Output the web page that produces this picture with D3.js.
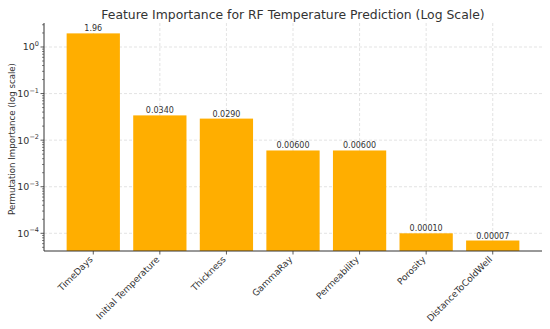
<!DOCTYPE html>
<html><head><meta charset="utf-8">
<script src="https://cdn.jsdelivr.net/npm/d3@7"></script>
<style>body{margin:0;background:#fff;} text{font-family:"DejaVu Sans",sans-serif;}</style>
</head><body><svg id="c" width="550" height="329"></svg>
<script>
const categories = ["TimeDays","Initial Temperature","Thickness","GammaRay","Permeability","Porosity","DistanceToColdWell"];
const values = [1.96, 0.034, 0.029, 0.006, 0.006, 0.0001, 0.00007];
const valueLabels = ["1.96","0.0340","0.0290","0.00600","0.00600","0.00010","0.00007"];
const yTickExps = [0,-1,-2,-3,-4];
const title = "Feature Importance for RF Temperature Prediction (Log Scale)";
const yLabel = "Permutation Importance (log scale)";

const svg = d3.select("#c");
const L = 44, R = 542, T = 23, B = 251;
const textColor = "#333";
const barColor = "#ffae00";

const x = d3.scaleLinear().domain([-0.74, categories.length - 1 + 0.74]).range([L, R]);
const y = d3.scaleLog().domain([Math.pow(10,-4.38), Math.pow(10,0.515)]).range([B, T]);

// gridlines
const g = svg.append("g");
categories.forEach((c,i)=>{
  g.append("line").attr("x1",x(i)).attr("x2",x(i)).attr("y1",T).attr("y2",B)
   .attr("stroke","#dcdcdc").attr("stroke-width",0.8).attr("stroke-dasharray","3,2");
});
yTickExps.forEach(e=>{
  g.append("line").attr("x1",L).attr("x2",R).attr("y1",y(Math.pow(10,e))).attr("y2",y(Math.pow(10,e)))
   .attr("stroke","#dcdcdc").attr("stroke-width",0.8).attr("stroke-dasharray","3,2");
});

// bars
const bw = 0.8;
svg.append("g").selectAll("rect").data(values).join("rect")
  .attr("x",(d,i)=>x(i-bw/2)).attr("width",x(bw)-x(0))
  .attr("y",d=>y(d)).attr("height",d=>B-y(d)).attr("fill",barColor);

// value labels
svg.append("g").selectAll("text").data(values).join("text")
  .attr("x",(d,i)=>x(i)).attr("y",d=>y(d)-2).attr("text-anchor","middle")
  .attr("font-size",8).attr("fill",textColor).text((d,i)=>valueLabels[i]);

// axes spines
svg.append("line").attr("x1",L).attr("x2",L).attr("y1",T).attr("y2",B).attr("stroke","#333").attr("stroke-width",1);
svg.append("line").attr("x1",L).attr("x2",R).attr("y1",B).attr("y2",B).attr("stroke","#333").attr("stroke-width",1);

// y ticks major + minor
const minor = [];
for (let e=-5;e<=0;e++) for (let m=2;m<=9;m++){ const v=m*Math.pow(10,e); if (v>y.domain()[0] && v<y.domain()[1]) minor.push(v); }
minor.forEach(v=>svg.append("line").attr("x1",L-2).attr("x2",L).attr("y1",y(v)).attr("y2",y(v)).attr("stroke","#333").attr("stroke-width",0.6));
yTickExps.forEach(e=>{
  const yy = y(Math.pow(10,e));
  svg.append("line").attr("x1",L-3.5).attr("x2",L).attr("y1",yy).attr("y2",yy).attr("stroke","#333").attr("stroke-width",0.8);
  const t = svg.append("text").attr("x",L-5).attr("y",yy+3.5).attr("text-anchor","end").attr("font-size",9.5).attr("fill",textColor);
  t.append("tspan").text("10");
  t.append("tspan").attr("font-size",6.5).attr("dy",-4.5).text(e===0?"0":"\u2212"+(-e));
});

// x ticks
categories.forEach((c,i)=>{
  svg.append("line").attr("x1",x(i)).attr("x2",x(i)).attr("y1",B).attr("y2",B+3.5).attr("stroke","#333").attr("stroke-width",0.8);
  svg.append("text").attr("transform",`translate(${x(i)},${B+9}) rotate(-45)`)
    .attr("text-anchor","end").attr("font-size",9).attr("fill",textColor).text(c);
});

// title
svg.append("text").attr("x",(L+R)/2).attr("y",19).attr("text-anchor","middle").attr("font-size",12.4).attr("fill",textColor).text(title);
// y label
svg.append("text").attr("transform",`translate(15,139) rotate(-90)`).attr("text-anchor","middle").attr("font-size",8.6).attr("fill",textColor).text(yLabel);
</script></body></html>
